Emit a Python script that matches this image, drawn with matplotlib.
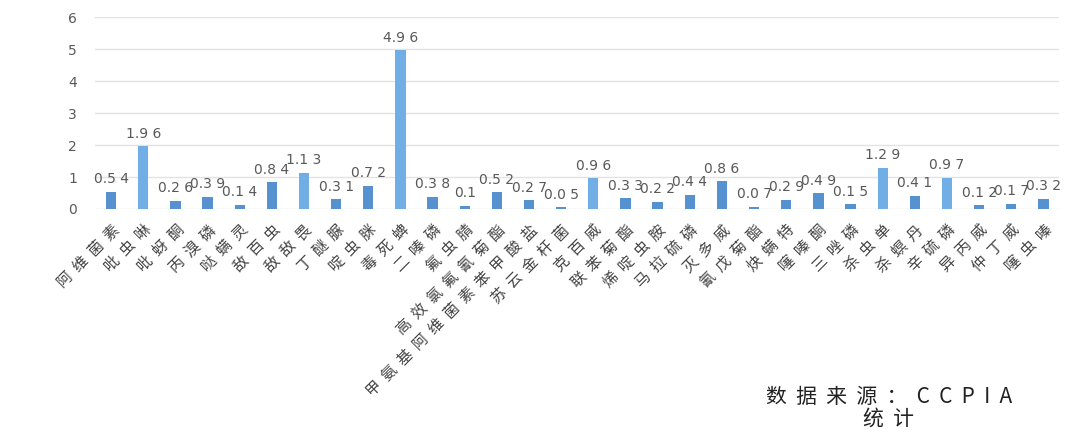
import numpy as np
import matplotlib
matplotlib.use("Agg")
import matplotlib.pyplot as plt

plt.rcParams['font.family'] = ['Noto Sans CJK SC', 'DejaVu Sans']

names = ["阿维菌素", "吡虫啉", "吡蚜酮", "丙溴磷", "哒螨灵", "敌百虫", "敌敌畏",
         "丁醚脲", "啶虫脒", "毒死蜱", "二嗪磷", "氟虫腈", "高效氯氟氰菊酯",
         "甲氨基阿维菌素苯甲酸盐", "苏云金杆菌", "克百威", "联苯菊酯", "烯啶虫胺",
         "马拉硫磷", "灭多威", "氰戊菊酯", "炔螨特", "噻嗪酮", "三唑磷", "杀虫单",
         "杀螟丹", "辛硫磷", "异丙威", "仲丁威", "噻虫嗪"]
values = [0.54, 1.96, 0.26, 0.39, 0.14, 0.84, 1.13, 0.31, 0.72, 4.96,
          0.38, 0.1, 0.52, 0.27, 0.05, 0.96, 0.33, 0.22, 0.44, 0.86,
          0.07, 0.29, 0.49, 0.15, 1.29, 0.41, 0.97, 0.12, 0.17, 0.32]
yticks = [0, 1, 2, 3, 4, 5, 6]

x = np.arange(len(names))
colors = ['#72AEE6' if v > 0.9 else '#5592CF' for v in values]

fig = plt.figure(figsize=(10.8, 4.3), dpi=100)
ax = fig.add_axes([0.088, 0.514, 0.893, 0.446])
ax.bar(x, values, width=0.32, color=colors, zorder=3)

for xi, v in zip(x, values):
    a, b = f"{v:g}".split(".")
    s = a + "." + " ".join(b)
    ax.annotate(s, (xi, v), xytext=(0, 4), textcoords='offset points',
                ha='center', va='bottom', fontsize=10, color='#595959',
                family='DejaVu Sans')

ax.set_ylim(0, 6)
ax.set_xlim(-0.5, len(names) - 0.5)
ax.set_yticks(yticks)
ax.set_yticklabels([str(t) for t in yticks], fontsize=10, color='#595959',
                   family='DejaVu Sans')
ax.yaxis.grid(True, color='#E3E3E3', linewidth=1, zorder=0)
for sp in ax.spines.values():
    sp.set_visible(False)
ax.tick_params(axis='both', length=0)
ax.tick_params(axis='y', pad=13)
ax.tick_params(axis='x', pad=9)
ax.set_xticks(x)
ax.set_xticklabels(["  ".join(n) for n in names], rotation=45, ha='right',
                   rotation_mode='anchor', fontsize=11, color='#444444')

fig.text(0.823, 0.077, "数  据  来  源  ：  C  C  P  I  A", ha='center', va='center',
         fontsize=15, color='#222222')
fig.text(0.823, 0.027, "统  计", ha='center', va='center',
         fontsize=15, color='#222222')

fig.savefig("out.png", dpi=100)
